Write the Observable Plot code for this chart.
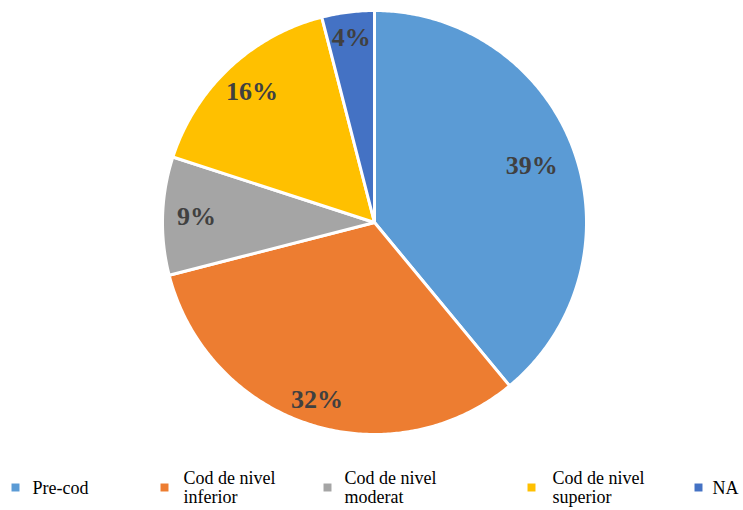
<!DOCTYPE html>
<html>
<head>
<meta charset="utf-8">
<script src="https://cdn.jsdelivr.net/npm/d3@7"></script>
<script src="https://cdn.jsdelivr.net/npm/@observablehq/plot@0.6"></script>
<style>
  html, body { margin: 0; padding: 0; background: #fff; }
  svg text { font-family: "Liberation Serif", "Times New Roman", serif !important; }
</style>
</head>
<body>
<div id="chart"></div>
<script>
// ---- Data ----
const categories = ["Pre-cod", "Cod de nivel inferior", "Cod de nivel moderat", "Cod de nivel superior", "NA"];
const legendLabels = ["Pre-cod", "Cod de nivel\ninferior", "Cod de nivel\nmoderat", "Cod de nivel\nsuperior", "NA"];
const values = [39, 32, 9, 16, 4];
const percentLabels = ["39%", "32%", "9%", "16%", "4%"];
const colors = ["#5B9BD5", "#ED7D31", "#A5A5A5", "#FFC000", "#4472C4"];

// ---- Layout ----
const W = 743, H = 510;
const cx = 374, cy = 222, R = 212;
const labelRadius = [167, 186, 178, 179, 186];
const legendSquareX = [15, 164, 327, 531, 698];
const legendTextX = [32, 183, 344, 552, 712];
const legendY = 487;
const FONT = "'Liberation Serif', 'Times New Roman', serif";

// ---- Build pie geometry from data ----
const arcs = d3.pie().sort(null).value(d => d.value)(categories.map((c, i) => ({cat: c, value: values[i], label: percentLabels[i], i})));
const polys = [];
const labels = [];
arcs.forEach(a => {
  const n = Math.max(8, Math.ceil((a.endAngle - a.startAngle) / 0.01));
  polys.push({cat: a.data.cat, x: cx, y: cy});
  for (let k = 0; k <= n; k++) {
    const t = a.startAngle + (a.endAngle - a.startAngle) * k / n;
    polys.push({cat: a.data.cat, x: cx + R * Math.sin(t), y: cy - R * Math.cos(t)});
  }
  polys.push({cat: a.data.cat, x: cx, y: cy});
  const m = (a.startAngle + a.endAngle) / 2;
  const lr = labelRadius[a.data.i];
  labels.push({text: a.data.label, x: cx + lr * Math.sin(m), y: cy - lr * Math.cos(m)});
});
const legend = categories.map((c, i) => ({cat: c, label: legendLabels[i], sx: legendSquareX[i], tx: legendTextX[i], y: legendY}));

const chart = Plot.plot({
  width: W,
  height: H,
  margin: 0,
  x: {domain: [0, W], range: [0, W], axis: null},
  y: {domain: [0, H], range: [0, H], axis: null},
  color: {domain: categories, range: colors},
  style: {fontFamily: FONT, background: "#fff"},
  marks: [
    Plot.line(polys, {x: "x", y: "y", z: "cat", fill: "cat", stroke: "white", strokeWidth: 3, strokeLinejoin: "round"}),
    Plot.text(labels, {x: "x", y: "y", text: "text", fontFamily: FONT, fontSize: 26, fontWeight: "bold", fill: "#404040"}),
    Plot.dot(legend, {x: "sx", y: "y", symbol: "square", r: 4.5, fill: "cat", stroke: null}),
    Plot.text(legend, {x: "tx", y: "y", text: "label", textAnchor: "start", fontFamily: FONT, fontSize: 18, lineHeight: 1.08, fill: "#000"})
  ]
});
document.getElementById("chart").appendChild(chart);
</script>
</body>
</html>
